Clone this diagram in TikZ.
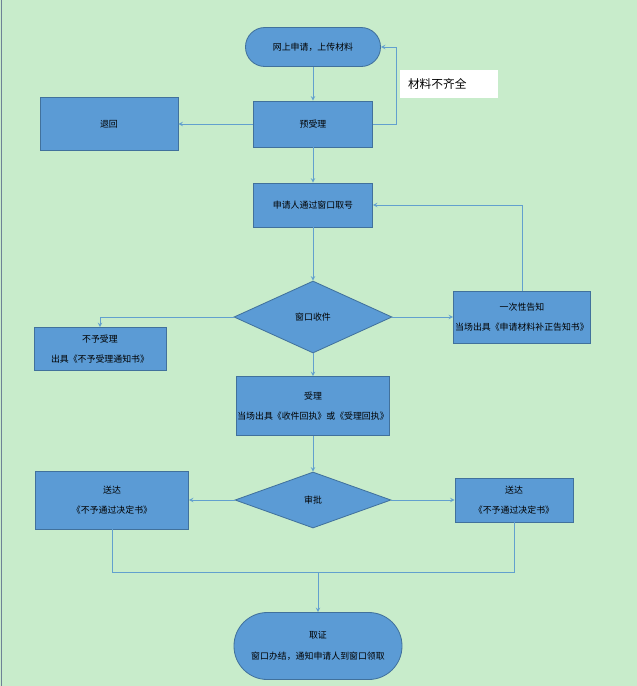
\documentclass[tikz,border=0pt]{standalone}
\usepackage{fontspec}
\newfontfamily\cjk{Noto Sans CJK SC}
\usetikzlibrary{shapes.geometric}
\definecolor{bggreen}{RGB}{200,236,203}
\definecolor{boxblue}{RGB}{91,155,213}
\definecolor{boxline}{RGB}{65,113,156}
\definecolor{linkblue}{RGB}{98,160,206}
\definecolor{edgegray}{RGB}{110,130,150}

\begin{document}
\begin{tikzpicture}[x=0.03cm, y=-0.03cm,
  box/.style={draw=boxline, fill=boxblue, line width=0.7pt, inner sep=0pt, align=center,
    font=\cjk\fontsize{7.6}{17.5}\selectfont},
  stadium/.style={box, rounded corners=#1},
  choice/.style={box, diamond, aspect=2},
  link/.style={draw=linkblue, line width=0.7pt},
  >=stealth]

  % Draw the background
  \fill[bggreen] (0,0) rectangle (637,686);
  \useasboundingbox (0,0) rectangle (637,686);
  \draw[edgegray, line width=1.2pt] (1.5,0) -- (1.5,686);

  % Draw the boxes
  \node[stadium=0.58cm, minimum width=4.05cm, minimum height=1.17cm] (start) at (313,47) {网上申请，上传材料};
  \node[fill=white, minimum height=0.84cm, inner xsep=0.24cm, inner ysep=0pt, text width=2.46cm,
    align=left, font=\cjk\fontsize{10}{12}\selectfont] (missing) at (449,84) {材料不齐全};
  \node[box, minimum width=3.57cm, minimum height=1.38cm] (pre) at (313,124) {预受理};
  \node[box, minimum width=4.14cm, minimum height=1.59cm] (back) at (109,124) {退回};
  \node[box, minimum width=3.57cm, minimum height=1.32cm] (apply) at (313,205) {申请人通过窗口取号};
  \node[choice, minimum width=4.74cm, minimum height=2.16cm] (recv) at (313,317) {窗口收件};
  \node[box, minimum width=4.11cm, minimum height=1.56cm] (notice) at (522,317) {一次性告知\\当场出具《申请材料补正告知书》};
  \node[box, minimum width=3.96cm, minimum height=1.29cm] (reject) at (100,349) {不予受理\\出具《不予受理通知书》};
  \node[box, minimum width=4.59cm, minimum height=1.77cm] (accept) at (313,406) {受理\\当场出具《收件回执》或《受理回执》};
  \node[choice, minimum width=4.68cm, minimum height=1.68cm] (approve) at (313,500) {审批};
  \node[box, minimum width=4.59cm, minimum height=1.74cm] (sendl) at (112,500) {送达\\《不予通过决定书》};
  \node[box, minimum width=3.54cm, minimum height=1.32cm] (sendr) at (514,500) {送达\\《不予通过决定书》};
  \node[stadium=1cm, minimum width=5.04cm, minimum height=2.01cm] (cert) at (318,646) {取证\\窗口办结，通知申请人到窗口领取};
  \coordinate (join) at (318,572);

  % Draw the connectors
  \draw[link, ->] (start) -- (pre);
  \draw[link, ->] (pre.east) -- ++(23,0) |- (start.east);
  \draw[link, ->] (pre) -- (back);
  \draw[link, ->] (pre) -- (apply);
  \draw[link, ->] (apply) -- (recv);
  \draw[link, ->] (recv) -- (notice);
  \draw[link, ->] (notice.north) |- (apply.east);
  \draw[link, ->] (recv.west) -| (reject.north);
  \draw[link, ->] (recv) -- (accept);
  \draw[link, ->] (accept) -- (approve);
  \draw[link, ->] (approve) -- (sendl);
  \draw[link, ->] (approve) -- (sendr);
  \draw[link] (sendl.south) |- (join);
  \draw[link] (sendr.south) |- (join);
  \draw[link, ->] (join) -- (cert);
\end{tikzpicture}
\end{document}
